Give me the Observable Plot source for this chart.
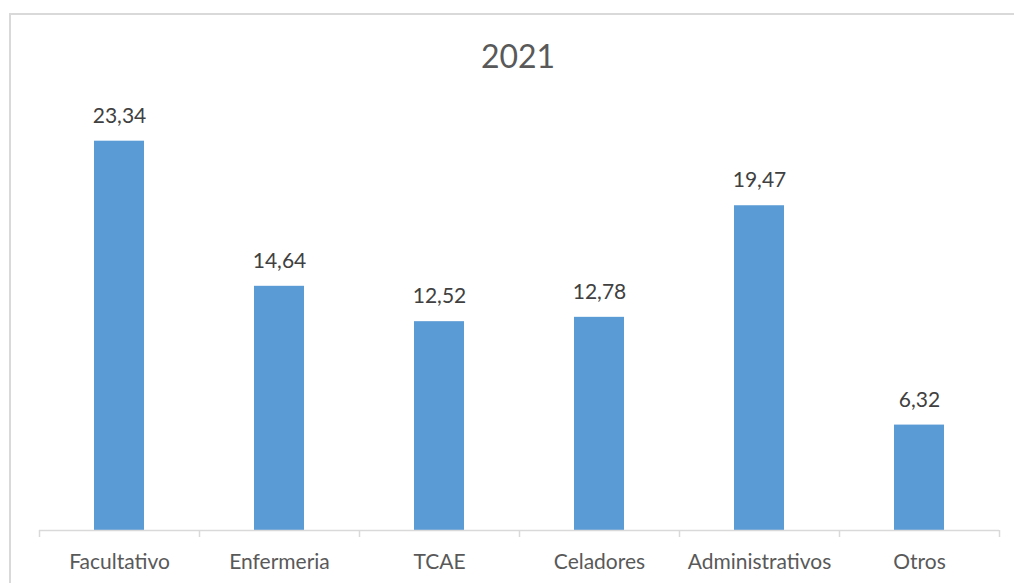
<!DOCTYPE html>
<html>
<head>
<meta charset="utf-8">
<script src="https://cdn.jsdelivr.net/npm/d3@7"></script>
<script src="https://cdn.jsdelivr.net/npm/@observablehq/plot@0.6"></script>
<style>
  html, body { margin: 0; padding: 0; background: #fff; }
  #wrap { position: relative; width: 1014px; height: 583px; overflow: hidden; }
  #border { position: absolute; left: 9px; top: 13px; width: 1020px; height: 600px;
            border-left: 2px solid #d9d9d9; border-top: 2px solid #d9d9d9; box-sizing: border-box; }
  #title { position: absolute; left: 0; width: 1036px; top: 36px; text-align: center;
           font-family: Lato, "Open Sans", sans-serif; font-size: 32px; color: #595959; }
  #chart { position: absolute; left: 0; top: 0; }
</style>
</head>
<body>
<div id="wrap">
  <div id="border"></div>
  <div id="title">2021</div>
  <div id="chart"></div>
</div>
<script>
const categories = ["Facultativo", "Enfermeria", "TCAE", "Celadores", "Administrativos", "Otros"];
const values = [23.34, 14.64, 12.52, 12.78, 19.47, 6.32];
const valueLabels = ["23,34", "14,64", "12,52", "12,78", "19,47", "6,32"];

const data = categories.map((c, i) => ({cat: c, value: values[i], label: valueLabels[i]}));
const lastCat = categories[categories.length - 1];

const chart = Plot.plot({
  width: 1014,
  height: 583,
  marginLeft: 39,
  marginRight: 15,
  marginTop: 113,
  marginBottom: 53,
  style: {fontFamily: "Lato, 'Open Sans', sans-serif", background: "transparent", overflow: "visible"},
  x: {domain: categories, paddingInner: 0.6875, paddingOuter: 0.34375, label: null},
  y: {domain: [0, 25], axis: null},
  marks: [
    Plot.barY(data, {x: "cat", y: "value", fill: "#5b9bd5"}),
    Plot.text(data, {x: "cat", y: "value", text: "label", dy: -25, fontSize: 21, fill: "#404040"}),
    Plot.ruleY([0], {stroke: "#d9d9d9", strokeWidth: 1.5}),
    Plot.ruleX(categories, {x: d => d, y1: 0, y2: -0.42, dx: -80, stroke: "#d9d9d9", strokeWidth: 1.5}),
    Plot.ruleX([lastCat], {x: d => d, y1: 0, y2: -0.42, dx: 80, stroke: "#d9d9d9", strokeWidth: 1.5}),
    Plot.axisX({tickSize: 0, tickPadding: 24, fontSize: 21, fill: "#595959", label: null})
  ]
});
document.getElementById("chart").appendChild(chart);
</script>
</body>
</html>
